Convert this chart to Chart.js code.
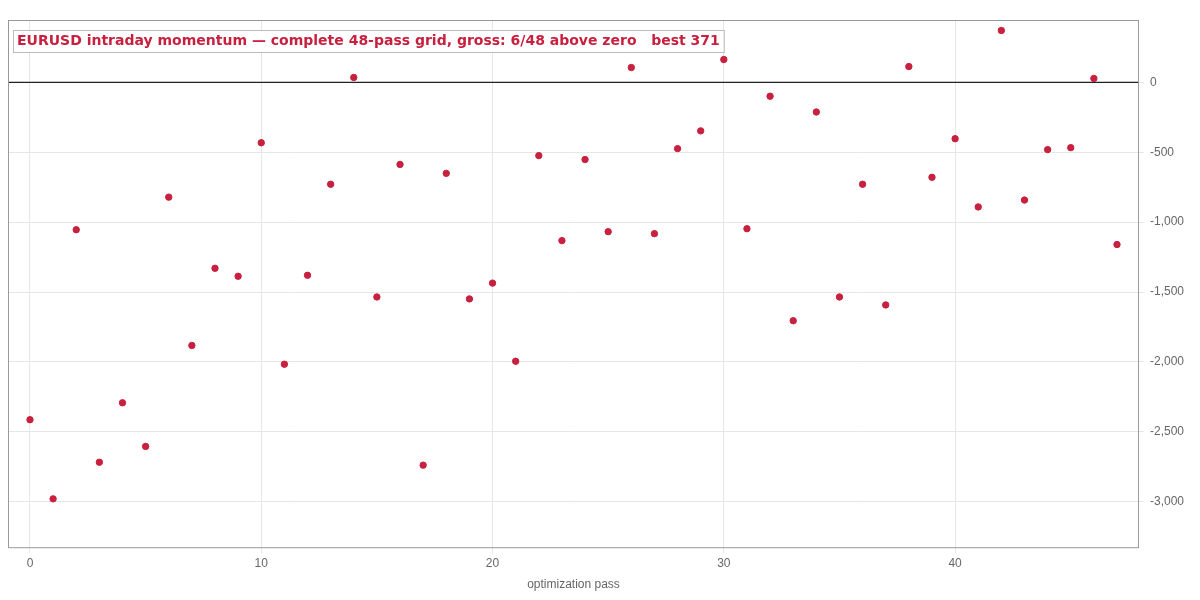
<!DOCTYPE html>
<html><head><meta charset="utf-8">
<script src="https://cdn.jsdelivr.net/npm/chart.js@4/dist/chart.umd.min.js"></script>
<style>html,body{margin:0;padding:0;background:#fff}#w{width:1200px;height:600px}</style>
</head><body><div id="w"><canvas id="c"></canvas></div>
<script>
const passes = Array.from({length:48},(_,i)=>i);
const gross = [-2413,-2979,-1054,-2717,-2292,-2604,-821,-1882,-1330,-1387,-432,-2016,-1380,-729,35,-1535,-587,-2738,-651,-1549,-1436,-1995,-524,-1132,-552,-1068,106,-1082,-474,-347,163,-1047,-99,-1705,-212,-1535,-729,-1592,113,-679,-403,-891,371,-842,-481,-467,28,-1160];
const titleText = "EURUSD intraday momentum — complete 48-pass grid, gross: 6/48 above zero   best 371";
const fmt = new Intl.NumberFormat('en-US');
const deco = {id:'deco',
 beforeDatasetsDraw(ch){const {ctx,chartArea:a,scales:{y}}=ch;const yy=y.getPixelForValue(0);
  ctx.save();ctx.strokeStyle='#222';ctx.lineWidth=1.3;ctx.beginPath();ctx.moveTo(a.left,yy);ctx.lineTo(a.right,yy);ctx.stroke();
  ctx.strokeStyle='#999';ctx.lineWidth=1;ctx.strokeRect(a.left+0.5,a.top+0.5,a.width-1,a.height-1);ctx.restore();},
 afterDatasetsDraw(ch){const {ctx,chartArea:a}=ch;ctx.save();ctx.font='bold 14px "DejaVu Sans", sans-serif';
  const w=ctx.measureText(titleText).width;const x=a.left+5,y=a.top+10;
  ctx.fillStyle='rgba(255,255,255,0.9)';ctx.fillRect(x,y,w+8,22);ctx.strokeStyle='#bbb';ctx.strokeRect(x+0.5,y+0.5,w+8,22);
  ctx.fillStyle='#c8203f';ctx.textBaseline='middle';ctx.fillText(titleText,x+4,y+11.5);ctx.restore();}};
new Chart(document.getElementById('c'),{type:'scatter',
 data:{datasets:[{data:passes.map((p,i)=>({x:p,y:gross[i]})),backgroundColor:'#c8203f',borderColor:'#c8203f',pointRadius:3.2,pointHoverRadius:3.2}]},
 options:{responsive:true,maintainAspectRatio:false,animation:false,
  layout:{padding:{left:8,right:10,top:20,bottom:4}},
  plugins:{legend:{display:false},tooltip:{enabled:false}},
  scales:{
   x:{type:'linear',min:-0.95,max:47.95,afterBuildTicks(s){s.ticks=[0,10,20,30,40].map(v=>({value:v}));},
      grid:{color:'#e6e6e6',drawTicks:true,tickLength:5},border:{display:false},
      ticks:{color:'#666',font:{size:12},callback:v=>v},
      title:{display:true,text:'optimization pass',color:'#666',font:{size:12}}},
   y:{position:'right',min:-3332,max:446,afterBuildTicks(s){s.ticks=[0,-500,-1000,-1500,-2000,-2500,-3000].map(v=>({value:v}));},
      grid:{color:'#e6e6e6',tickLength:5},border:{display:false},
      ticks:{color:'#666',font:{size:12},padding:6,callback:v=>v<0?'−'.replace('−','-')+fmt.format(-v):fmt.format(v)}}
  }},plugins:[deco]});
</script></body></html>
